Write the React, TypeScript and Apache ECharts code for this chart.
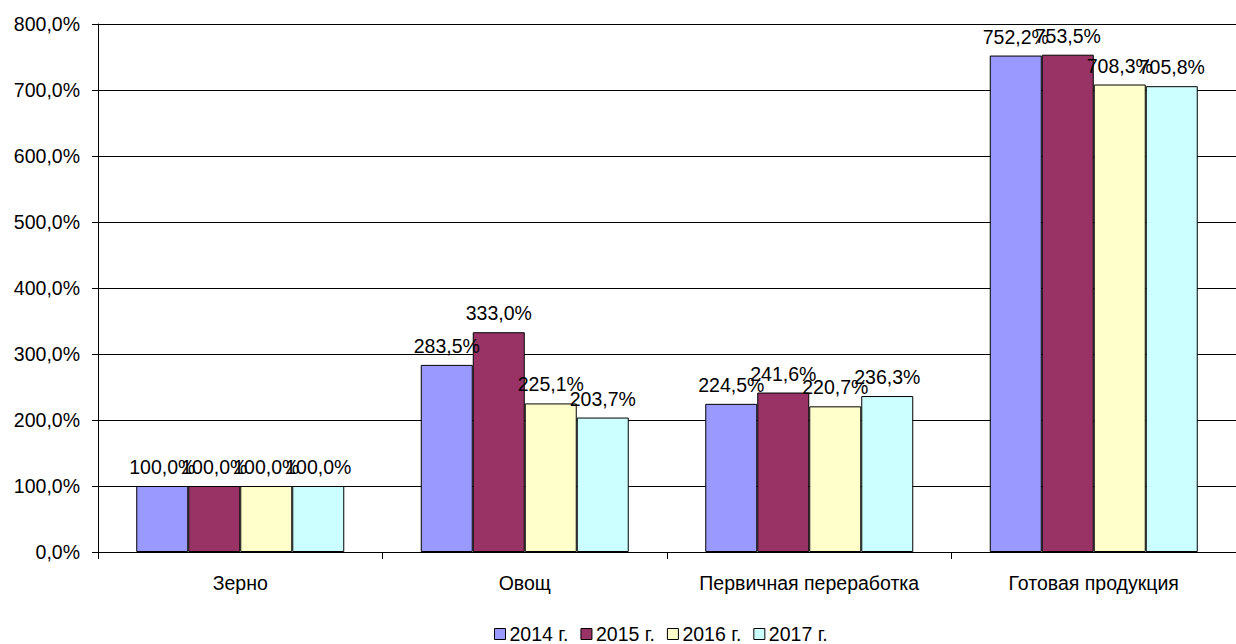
import React, { useEffect, useRef } from "react";
import * as echarts from "echarts";

const categories = ["Зерно", "Овощ", "Первичная переработка", "Готовая продукция"];
const seriesNames = ["2014 г.", "2015 г.", "2016 г.", "2017 г."];
const values2014 = [100.0, 283.5, 224.5, 752.2];
const values2015 = [100.0, 333.0, 241.6, 753.5];
const values2016 = [100.0, 225.1, 220.7, 708.3];
const values2017 = [100.0, 203.7, 236.3, 705.8];
const colors = ["#9999FF", "#993366", "#FFFFCC", "#CCFFFF"];

const fmt = (v: number) => v.toFixed(1).replace(".", ",") + "%";
const FONT = "Liberation Sans, Arial, sans-serif";
const FS = 19.5;

export default function App() {
  const ref = useRef<HTMLDivElement>(null);
  useEffect(() => {
    if (!ref.current) return;
    const chart = echarts.init(ref.current, undefined, { renderer: "svg" });
    const data = [values2014, values2015, values2016, values2017];
    chart.setOption({
      animation: false,
      backgroundColor: "#ffffff",
      textStyle: { fontFamily: FONT },
      grid: { left: 98, right: 0, top: 24, bottom: 92, containLabel: false },
      legend: {
        left: 494,
        top: 624,
        padding: 0,
        itemWidth: 11,
        itemHeight: 11,
        itemGap: 12,
        icon: "rect",
        itemStyle: { borderColor: "#000", borderWidth: 1 },
        textStyle: { fontFamily: FONT, fontSize: FS, color: "#000", padding: [0, 0, 0, -1] },
        data: seriesNames,
      },
      xAxis: {
        type: "category",
        data: categories,
        axisLine: { lineStyle: { color: "#000", width: 1 } },
        axisTick: { show: true, length: 7, lineStyle: { color: "#000" } },
        axisLabel: { color: "#000", fontFamily: FONT, fontSize: FS, margin: 21, interval: 0 },
      },
      yAxis: {
        type: "value",
        min: 0,
        max: 800,
        interval: 100,
        axisLine: { show: true, lineStyle: { color: "#000", width: 1 } },
        axisTick: { show: true, length: 6, lineStyle: { color: "#000" } },
        axisLabel: { color: "#000", fontFamily: FONT, fontSize: FS, margin: 18, formatter: (v: number) => fmt(v) },
        splitLine: { show: true, lineStyle: { color: "#000", width: 1 } },
      },
      series: seriesNames.map((name, i) => ({
        name,
        type: "bar",
        data: data[i],
        barWidth: 52,
        barGap: "0%",
        itemStyle: { color: colors[i], borderColor: "#000", borderWidth: 1 },
        label: {
          show: true,
          position: "top",
          distance: 9,
          color: "#000",
          fontFamily: FONT,
          fontSize: FS,
          formatter: (p: any) => fmt(p.value),
        },
      })),
    });
    return () => chart.dispose();
  }, []);
  return (
    <div
      ref={ref}
      style={{ position: "absolute", left: 0, top: 0, width: 1236, height: 644 }}
    />
  );
}
